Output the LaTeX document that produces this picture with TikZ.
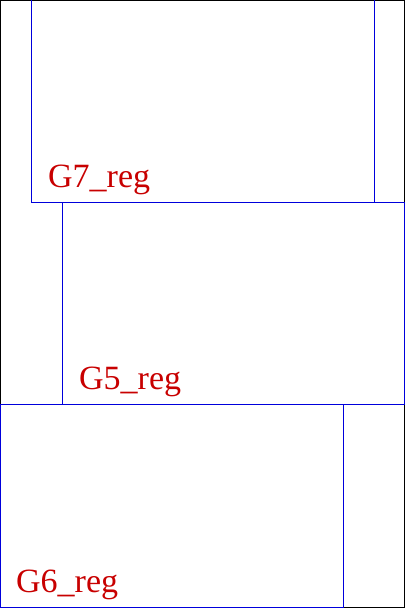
\documentclass[tikz,border=0pt]{standalone}
\usepackage{fontspec}
\setmainfont{Liberation Serif}
\definecolor{regblue}{RGB}{0,0,220}
\definecolor{regred}{RGB}{200,0,0}
\begin{document}
\begin{tikzpicture}[x=1pt,y=1pt,
  regbox/.style={draw=regblue,line width=1pt},
  reglabel/.style={text=regred,font=\fontsize{34}{34}\selectfont,anchor=base west,inner sep=0pt}]
\useasboundingbox (0,0) rectangle (405,608);
\draw[black,line width=1pt] (0.5,0.5) rectangle (404.5,607.5);
\draw[regbox] (31,608) rectangle (374,405);
\draw[regbox] (62,405) rectangle (404.5,203);
\draw[regbox] (0.5,203) rectangle (343,0.5);
\node[reglabel] (g7) at (48,420) {G7\_reg};
\node[reglabel] (g5) at (79,218) {G5\_reg};
\node[reglabel] (g6) at (16,16) {G6\_reg};
\end{tikzpicture}
\end{document}
